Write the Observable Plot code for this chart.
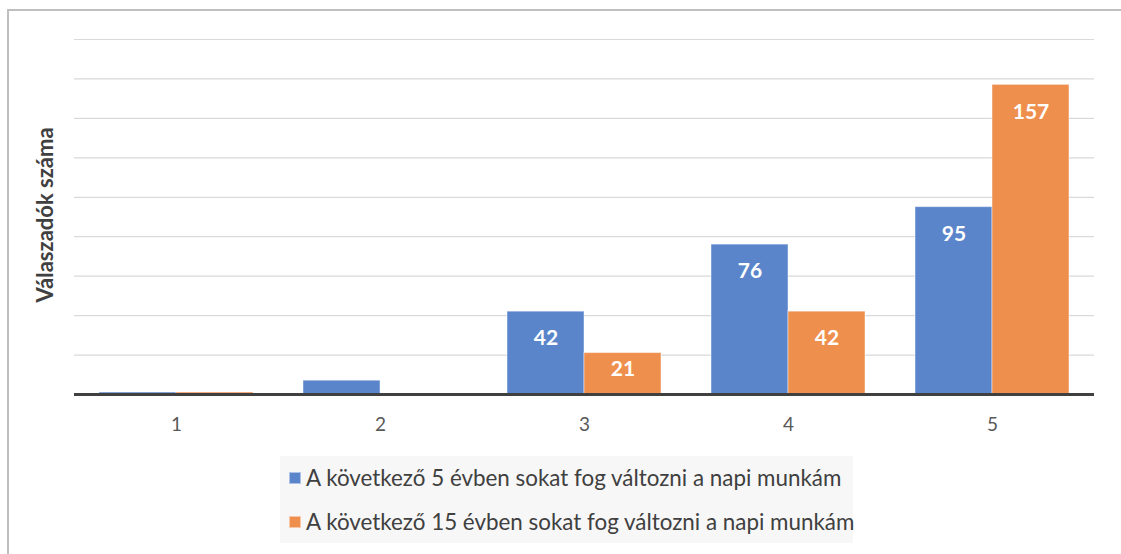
<!DOCTYPE html>
<html>
<head>
<meta charset="utf-8">
<script src="https://cdn.jsdelivr.net/npm/d3@7"></script>
<script src="https://cdn.jsdelivr.net/npm/@observablehq/plot@0.6"></script>
<style>
  html, body { margin: 0; padding: 0; background: #fff; }
  #wrap { position: relative; width: 1121px; height: 554px; overflow: hidden; font-family: Lato, "Open Sans", sans-serif; }
  #frame { position: absolute; left: 7px; top: 9px; width: 1200px; height: 700px; border-left: 2px solid #bfbfbf; border-top: 2px solid #bfbfbf; }
  #chart { position: absolute; left: 0; top: 0; }
  #legend { position: absolute; left: 280px; top: 456px; width: 573px; height: 87px; background: #f7f7f7; }
  .item { position: absolute; left: 9px; display: flex; align-items: center; font-size: 22.4px; color: #404040; white-space: nowrap; }
  .sw { width: 12px; height: 12px; margin-right: 5px; box-sizing: border-box; border: 1px solid rgba(255,255,255,0.5); }
</style>
</head>
<body>
<div id="wrap">
  <div id="frame"></div>
  <div id="chart"></div>
  <div id="legend"></div>
</div>
<script>
const categories = ["1", "2", "3", "4", "5"];
const seriesNames = [
  "A következő 5 évben sokat fog változni a napi munkám",
  "A következő 15 évben sokat fog változni a napi munkám"
];
const values5 = [1, 7, 42, 76, 95];
const values15 = [1, 0, 21, 42, 157];
const colors = ["#5b85cb", "#ef8f4e"];
const yTicks = [20, 40, 60, 80, 100, 120, 140, 160, 180];
const yLabel = "Válaszadók száma";

const d5 = categories.map((c, i) => ({cat: c, series: seriesNames[0], value: values5[i]}));
const d15 = categories.map((c, i) => ({cat: c, series: seriesNames[1], value: values15[i]}));

const half = 77; // half of the band width (1020/5 * (1 - 0.245) / 2)

function labels(data, dx) {
  return [
    Plot.text(data.filter(d => d.value >= 30), {x: "cat", y: "value", text: d => String(d.value), dx, dy: 27, fill: "white", fontWeight: "bold", fontSize: 21}),
    Plot.text(data.filter(d => d.value >= 15 && d.value < 30), {x: "cat", y: "value", text: d => String(d.value), dx, dy: 16, fill: "white", fontWeight: "bold", fontSize: 21})
  ];
}

const chart = Plot.plot({
  width: 1121,
  height: 445,
  marginLeft: 74,
  marginRight: 27,
  marginTop: 39,
  marginBottom: 51,
  style: {fontFamily: "Lato, 'Open Sans', sans-serif", background: "transparent"},
  x: {domain: categories, paddingInner: 0.245, paddingOuter: 0.1225, label: null},
  y: {domain: [0, 180], axis: null},
  marks: [
    Plot.ruleY(yTicks, {stroke: "#d9d9d9", strokeWidth: 1.2}),
    Plot.axisX({anchor: "bottom", tickSize: 0, tickPadding: 23, fontSize: 19, fill: "#595959", label: null}),
    Plot.barY(d5, {x: "cat", y: "value", fill: colors[0], stroke: "white", strokeOpacity: 0.45, strokeWidth: 1, insetLeft: 0, insetRight: half}),
    Plot.barY(d15, {x: "cat", y: "value", fill: colors[1], stroke: "white", strokeOpacity: 0.45, strokeWidth: 1, insetLeft: half, insetRight: 0}),
    ...labels(d5, -half / 2),
    ...labels(d15, half / 2),
    Plot.ruleY([0], {stroke: "#404040", strokeWidth: 3}),
    Plot.text([yLabel], {frameAnchor: "left", textAnchor: "middle", dx: -29, dy: -2, rotate: -90, fontWeight: "bold", fontSize: 22, fill: "#404040"})
  ]
});
document.getElementById("chart").appendChild(chart);

const legend = document.getElementById("legend");
seriesNames.forEach((name, i) => {
  const item = document.createElement("div");
  item.className = "item";
  item.style.top = (i === 0 ? 8 : 52) + "px";
  const sw = document.createElement("div");
  sw.className = "sw";
  sw.style.background = colors[i];
  const label = document.createElement("span");
  label.textContent = name;
  item.appendChild(sw);
  item.appendChild(label);
  legend.appendChild(item);
});
</script>
</body>
</html>
